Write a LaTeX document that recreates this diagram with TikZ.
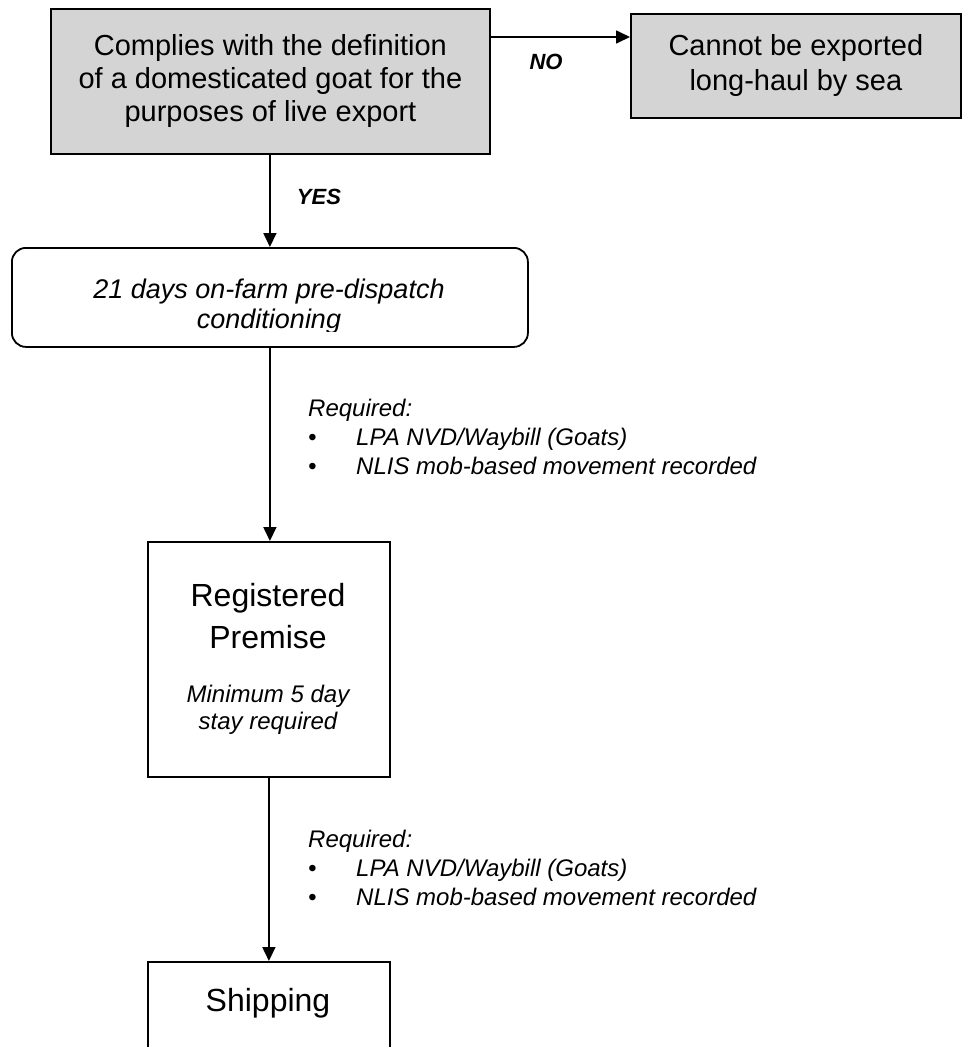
\documentclass[tikz,border=0pt]{standalone}
\usepackage{fontspec}
\setmainfont{Liberation Sans}
\usetikzlibrary{arrows.meta}
\definecolor{boxgray}{RGB}{212,212,212}
\begin{document}
\begin{tikzpicture}[x=1pt,y=-1pt,
  box/.style={draw=black, line width=1.8pt, inner sep=0pt, anchor=north west},
  graybox/.style={box, fill=boxgray},
  arr/.style={-{Triangle[length=14pt,width=13pt]}, line width=1.7pt},
  lbl/.style={font=\fontsize{22}{26}\selectfont\bfseries\itshape, inner sep=0pt},
  reqtext/.style={font=\fontsize{24}{29}\selectfont\itshape, align=left, inner sep=0pt, anchor=north west},
  bigtext/.style={font=\fontsize{32}{39}\selectfont, inner sep=0pt},
  smalltext/.style={font=\fontsize{24}{27}\selectfont\itshape, inner sep=0pt}
]
\useasboundingbox (0,0) rectangle (963,1047);
\clip (0,0) rectangle (963,1047);

% boxes
\node[graybox, minimum width=439pt, minimum height=145pt, align=center,
      font=\fontsize{29}{33}\selectfont] (def) at (50,8)
  {Complies with the definition\\of a domesticated goat for the\\purposes of live export};
\node[graybox, minimum width=330pt, minimum height=104pt, align=center,
      font=\fontsize{29}{35}\selectfont] (nox) at (630,13)
  {Cannot be exported\\long-haul by sea};
\node[box, rounded corners=14pt, minimum width=516pt, minimum height=99pt] (cond) at (11,247) {};
\begin{scope}
  \clip (11,247) rectangle (527,331);
  \node[font=\fontsize{27}{30}\selectfont\itshape, align=center, inner sep=0pt] (condtext) at (269,307)
    {21 days on-farm pre-dispatch\\conditioning};
\end{scope}
\node[box, minimum width=242pt, minimum height=235pt] (prem) at (147,541) {};
\node[bigtext] (premA) at (268,598) {Registered};
\node[bigtext] (premB) at (268,637) {Premise};
\node[smalltext] (premC) at (268,696) {Minimum 5 day};
\node[smalltext] (premD) at (268,723) {stay required};
\node[box, minimum width=242pt, minimum height=130pt] (ship) at (147,961) {};
\node[bigtext] (shiptext) at (268,1003) {Shipping};

% connectors
\coordinate (noA) at ([yshift=-29pt]def.north east);
\draw[arr] (noA) -- (noA -| nox.west);
\node[lbl] (nolbl) at (546,62) {NO};

\draw[arr] (def.south -| cond.north) -- (cond.north);
\node[lbl] (yeslbl) at (319,197) {YES};

\draw[arr] (cond.south) -- (cond.south |- prem.north);
\node[reqtext] (req1) at (308,399)
  {Required:\\
   \makebox[48pt][l]{\textbullet}LPA NVD/Waybill (Goats)\\
   \makebox[48pt][l]{\textbullet}NLIS mob-based movement recorded};

\draw[arr] (prem.south) -- (prem.south |- ship.north);
\node[reqtext] (req2) at (308,830)
  {Required:\\
   \makebox[48pt][l]{\textbullet}LPA NVD/Waybill (Goats)\\
   \makebox[48pt][l]{\textbullet}NLIS mob-based movement recorded};
\end{tikzpicture}
\end{document}
